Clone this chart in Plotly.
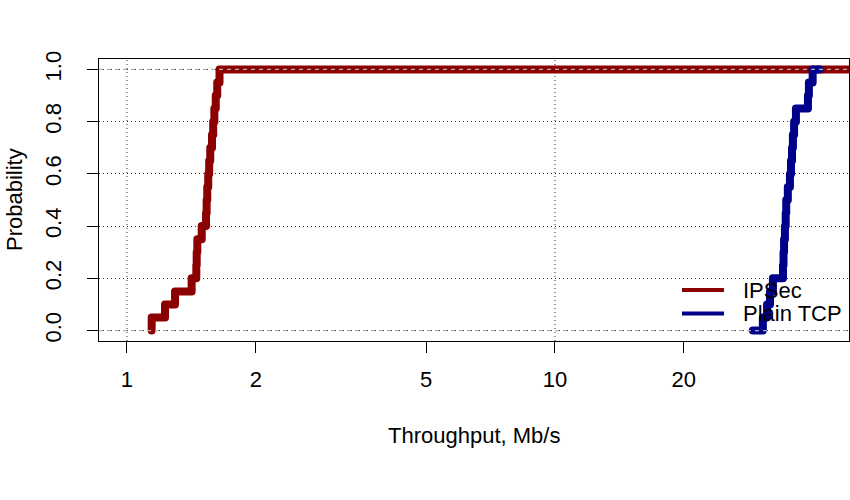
import numpy as np
import plotly.graph_objects as go

ipsec_tput = [1.142, 1.142, 1.227, 1.295, 1.416, 1.452, 1.455, 1.460, 1.495, 1.530,
              1.535, 1.540, 1.548, 1.556, 1.565, 1.580, 1.590, 1.600, 1.612, 1.625, 1.645]
ipsec_prob = [0.00, 0.05, 0.10, 0.15, 0.20, 0.25, 0.30, 0.35, 0.40, 0.45,
              0.50, 0.55, 0.60, 0.65, 0.70, 0.75, 0.80, 0.85, 0.90, 0.95, 1.00]

tcp_tput = [29.0, 30.6, 31.3, 31.8, 32.3, 34.1, 34.2, 34.3, 34.46, 34.6, 34.7,
            35.0, 35.4, 35.6, 35.8, 35.97, 36.2, 36.56, 39.0, 39.2, 40.0, 41.5]
tcp_prob = [0.00, 0.05, 0.10, 0.15, 0.20, 0.25, 0.30, 0.35, 0.40, 0.45, 0.50,
            0.55, 0.60, 0.65, 0.70, 0.75, 0.80, 0.85, 0.90, 0.95, 1.00, 1.00]

series_names = ["IPSec", "Plain TCP"]
series_colors = ["#8B0000", "#00008B"]

x_tickvals = [1, 2, 5, 10, 20]
x_ticktext = ["1", "2", "5", "10", "20"]
y_tickvals = [0.0, 0.2, 0.4, 0.6, 0.8, 1.0]
y_ticktext = ["0.0", "0.2", "0.4", "0.6", "0.8", "1.0"]

x_range_log = [-0.0654, 1.687]
y_range = [-0.04, 1.04]

FONT = "Liberation Sans, Arial, Helvetica, sans-serif"
FS = 22

# IPSec ECDF stays at 1 up to the right edge of the plot
ipsec_x = list(ipsec_tput) + [10 ** x_range_log[1] * 1.3]
ipsec_y = list(ipsec_prob) + [1.0]

fig = go.Figure()
fig.add_trace(go.Scatter(x=ipsec_x, y=ipsec_y, mode="lines", line_shape="hv",
                         line=dict(color=series_colors[0], width=8),
                         name=series_names[0], showlegend=False, hoverinfo="skip"))
fig.add_trace(go.Scatter(x=tcp_tput, y=tcp_prob, mode="lines", line_shape="hv",
                         line=dict(color=series_colors[1], width=8),
                         name=series_names[1], showlegend=False, hoverinfo="skip"))

shapes = []
# vertical dotted grid at decades
for xv in [1, 10]:
    shapes.append(dict(type="line", xref="x", yref="paper", x0=xv, x1=xv, y0=0, y1=1,
                       line=dict(color="#333333", width=1, dash="1px,3px"), layer="below"))
# dashed 0/1 reference lines (on top)
for yv in [0, 1]:
    shapes.append(dict(type="line", xref="paper", yref="y", x0=0, x1=1, y0=yv, y1=yv,
                       line=dict(color="#b3b3b3", width=1.3, dash="4px,4px"), layer="above"))

# plot area in page pixels: x 99..849, y 59..341
L, T, W, H = 99, 59, 750, 282

def px2paper(px, py):
    return (px - L) / W, (T + H - py) / H

annotations = []
for i, (nm, col) in enumerate(zip(series_names, series_colors)):
    py = 290 + 23.5 * i
    x0, y0 = px2paper(682, py)
    x1, _ = px2paper(724, py)
    shapes.append(dict(type="line", xref="paper", yref="paper", x0=x0, x1=x1, y0=y0, y1=y0,
                       line=dict(color=col, width=4), layer="above"))
    tx, ty = px2paper(741, py)
    annotations.append(dict(text=nm, xref="paper", yref="paper", x=tx, y=ty,
                            xanchor="left", yanchor="middle", showarrow=False,
                            font=dict(family=FONT, size=FS, color="black")))

# axis titles
ax, ay = px2paper(474, 435)
annotations.append(dict(text="Throughput, Mb/s", xref="paper", yref="paper", x=ax, y=ay,
                        xanchor="center", yanchor="middle", showarrow=False,
                        font=dict(family=FONT, size=FS, color="black")))
bx, by = px2paper(14, 200)
annotations.append(dict(text="Probability", xref="paper", yref="paper", x=bx, y=by,
                        xanchor="center", yanchor="middle", showarrow=False, textangle=-90,
                        font=dict(family=FONT, size=FS, color="black")))

fig.update_layout(
    width=850, height=500,
    margin=dict(l=L, r=850 - L - W, t=T, b=500 - T - H, pad=0),
    paper_bgcolor="white", plot_bgcolor="white",
    font=dict(family=FONT, size=FS, color="black"),
    shapes=shapes, annotations=annotations, showlegend=False,
    hovermode=False,
)
fig.update_xaxes(type="log", range=x_range_log, tickvals=x_tickvals, ticktext=x_ticktext,
                 ticks="outside", ticklen=11, tickwidth=1, tickcolor="black",
                 showline=True, linecolor="black", linewidth=1, mirror=True,
                 showgrid=False, zeroline=False, ticklabelstandoff=8,
                 tickfont=dict(family=FONT, size=FS, color="black"))
fig.update_yaxes(range=y_range, tickvals=y_tickvals, ticktext=y_ticktext,
                 ticks="outside", ticklen=11, tickwidth=1, tickcolor="black",
                 showline=True, linecolor="black", linewidth=1, mirror=True,
                 showgrid=True, gridcolor="#333333", gridwidth=1, griddash="1px,3px",
                 zeroline=False, tickangle=-90, ticklabelstandoff=17,
                 tickfont=dict(family=FONT, size=FS, color="black"))

post = (
    "document.body.style.margin='0';"
    "document.body.style.overflow='hidden';"
    "document.head.insertAdjacentHTML('beforeend',"
    "'<style>.scatterlayer .js-line{stroke-linecap:round;stroke-linejoin:round}</style>');"
)
fig.write_html("out.html", config={"displayModeBar": False, "staticPlot": True},
               post_script=post)
